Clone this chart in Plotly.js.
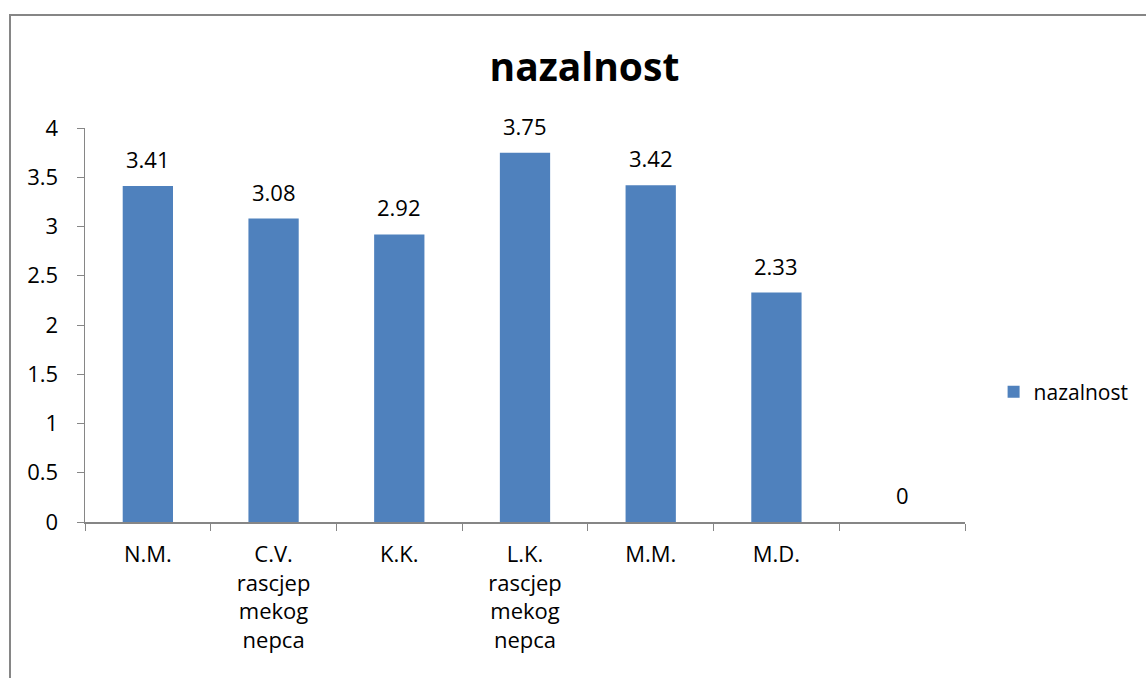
<!DOCTYPE html>
<html>
<head>
<meta charset="utf-8">
<script src="https://cdn.plot.ly/plotly-3.0.1.min.js"></script>
<style>
html,body{margin:0;padding:0;overflow:hidden;background:#fff;}
#chart{width:1146px;height:678px;position:absolute;left:0;top:0;}
#frame{position:absolute;left:9px;top:14px;width:1200px;height:700px;border:2px solid #868686;pointer-events:none;}
</style>
</head>
<body>
<div id="chart"></div>
<div id="frame"></div>
<script>
const categories = ["N.M.", "C.V.<br>rascjep<br>mekog<br>nepca", "K.K.", "L.K.<br>rascjep<br>mekog<br>nepca", "M.M.", "M.D.", " "];
const values = [3.41, 3.08, 2.92, 3.75, 3.42, 2.33, 0];
const valueLabels = ["3.41", "3.08", "2.92", "3.75", "3.42", "2.33", "0"];
const seriesName = "nazalnost";
const chartTitle = "nazalnost";
const yTicks = [0, 0.5, 1, 1.5, 2, 2.5, 3, 3.5, 4];
const yTickLabels = ["0", "0.5", "1", "1.5", "2", "2.5", "3", "3.5", "4"];

const font = "Open Sans, Noto Sans, sans-serif";

const trace = {
  type: "bar",
  x: categories,
  y: values,
  name: seriesName,
  marker: {color: "#4F81BD"},
  showlegend: true,
  hoverinfo: "none"
};

const annotations = categories.map((c, i) => ({
  x: c, y: values[i], xref: "x", yref: "y",
  text: valueLabels[i], showarrow: false,
  yshift: 27, font: {family: font, size: 22, color: "#000"}
}));

const layout = {
  width: 1146, height: 678,
  margin: {l: 85, r: 179, t: 128, b: 156},
  paper_bgcolor: "#fff", plot_bgcolor: "#fff",
  title: {text: "<b>" + chartTitle + "</b>", x: 0.51, xanchor: "center", y: 0.9, yanchor: "middle",
          font: {family: font, size: 39, color: "#000"}},
  bargap: 0.6,
  xaxis: {
    type: "category", tickson: "boundaries", ticks: "outside", ticklen: 7, tickcolor: "#868686",
    showline: true, linecolor: "#868686", linewidth: 1.5, showgrid: false, zeroline: false,
    ticklabelstandoff: 12,
    tickfont: {family: font, size: 22, color: "#000"}, fixedrange: true
  },
  yaxis: {
    range: [0, 4], tickvals: yTicks, ticktext: yTickLabels, ticks: "outside", ticklen: 7,
    tickcolor: "#868686", showline: true, linecolor: "#868686", linewidth: 1.5,
    showgrid: false, zeroline: false, ticklabelstandoff: 14,
    tickfont: {family: font, size: 22, color: "#000"}, fixedrange: true
  },
  legend: {x: 1.0325, xanchor: "left", y: 0.33, yanchor: "middle",
           font: {family: font, size: 21, color: "#000"}, itemwidth: 30, bgcolor: "rgba(0,0,0,0)"},
  annotations: annotations
};

Plotly.newPlot("chart", [trace], layout, {displayModeBar: false, staticPlot: true});
</script>
</body>
</html>
